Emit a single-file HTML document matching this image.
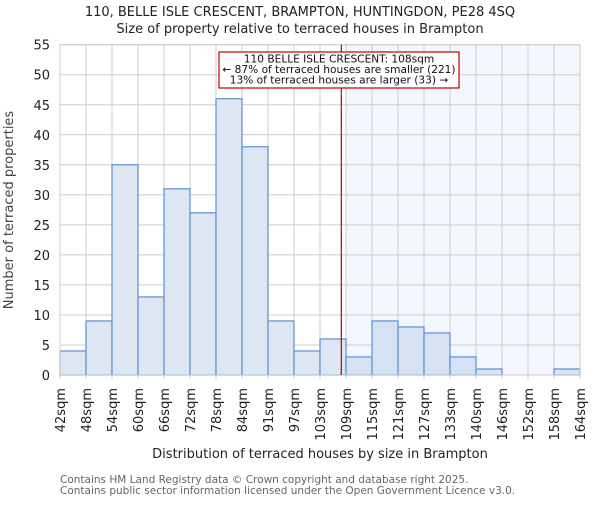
<!DOCTYPE html>
<html><head><meta charset="utf-8"><style>
body{margin:0;background:#fff;}
svg text{font-family:"DejaVu Sans","Liberation Sans",sans-serif;}
</style></head><body>
<svg id="chart" width="600" height="500" xmlns="http://www.w3.org/2000/svg">
<text x="300" y="16" text-anchor="middle" font-size="13" fill="#222">110, BELLE ISLE CRESCENT, BRAMPTON, HUNTINGDON, PE28 4SQ</text>
<text x="300" y="33" text-anchor="middle" font-size="13" fill="#222">Size of property relative to terraced houses in Brampton</text>
<g id="plot"></g>
<text transform="translate(13,210) rotate(-90)" text-anchor="middle" font-size="13" fill="#444">Number of terraced properties</text>
<text x="320" y="458" text-anchor="middle" font-size="13" fill="#222">Distribution of terraced houses by size in Brampton</text>
<text x="60" y="483" font-size="10.5" fill="#666">Contains HM Land Registry data © Crown copyright and database right 2025.</text>
<text x="60" y="494" font-size="10.5" fill="#666">Contains public sector information licensed under the Open Government Licence v3.0.</text>
</svg>
<script>
const categories=["42sqm","48sqm","54sqm","60sqm","66sqm","72sqm","78sqm","84sqm","91sqm","97sqm","103sqm","109sqm","115sqm","121sqm","127sqm","133sqm","140sqm","146sqm","152sqm","158sqm","164sqm"];
const counts=[4,9,35,13,31,27,46,38,9,4,6,3,9,8,7,3,1,0,0,1];
const yTicks=[0,5,10,15,20,25,30,35,40,45,50,55];
const markerBin=10.82;
const highlightStartBin=11;
const annotationLines=["110 BELLE ISLE CRESCENT: 108sqm","← 87% of terraced houses are smaller (221)","13% of terraced houses are larger (33) →"];

const NS="http://www.w3.org/2000/svg";
const X0=60,X1=580,Y0=375,Y1=44.7,YMAX=55;
const bw=(X1-X0)/counts.length;
const xs=i=>X0+i*bw;
const ys=v=>Y0-(v/YMAX)*(Y0-Y1);
const g=document.getElementById('plot');
function mk(t,a){const e=document.createElementNS(NS,t);for(const k in a)e.setAttribute(k,a[k]);g.appendChild(e);return e;}
let e=mk('rect',{x:xs(highlightStartBin),y:Y1,width:X1-xs(highlightStartBin),height:Y0-Y1,fill:'#f3f6fd'});


yTicks.forEach(v=>{
 let l=mk('line',{x1:X0,x2:X1,y1:ys(v),y2:ys(v),stroke:'#cccccc','stroke-width':1});
 
 
 let t=mk('text',{x:50,y:ys(v)+5,'text-anchor':'end','font-size':13,fill:'#222'});
 t.textContent=v;
 
 
});
categories.forEach((c,i)=>{
 let l=mk('line',{x1:xs(i),x2:xs(i),y1:Y1,y2:Y0+4,stroke:'#cccccc','stroke-width':1});
 
 
 let t=mk('text',{transform:`translate(${xs(i)+5},388) rotate(-90)`,'text-anchor':'end','font-size':13,fill:'#222'});
 t.textContent=c;
 
 
});
counts.forEach((v,i)=>{
 if(v<=0)return;
 let r=mk('rect',{x:xs(i),y:ys(v),width:bw,height:Y0-ys(v),fill:i>=highlightStartBin?'#d6e2f3':'#dde7f4',stroke:'#5a8fd6','stroke-width':1.2});
 
 
});
let ax=mk('rect',{x:X0,y:Y1,width:X1-X0,height:Y0-Y1,fill:'none',stroke:'#cccccc','stroke-width':1});


let ml=mk('line',{x1:xs(markerBin),x2:xs(markerBin),y1:Y1,y2:Y0,stroke:'#c00000','stroke-width':1.2});


let box=mk('rect',{x:219,y:52,width:240,height:36,fill:'#fff',stroke:'#c00000','stroke-width':1.2});


annotationLines.forEach((s,i)=>{
 let t=mk('text',{x:339,y:62.5+i*10.5,'text-anchor':'middle','font-size':10.6,fill:'#111'});
 t.textContent=s;
 
 
});
</script>
</body></html>
